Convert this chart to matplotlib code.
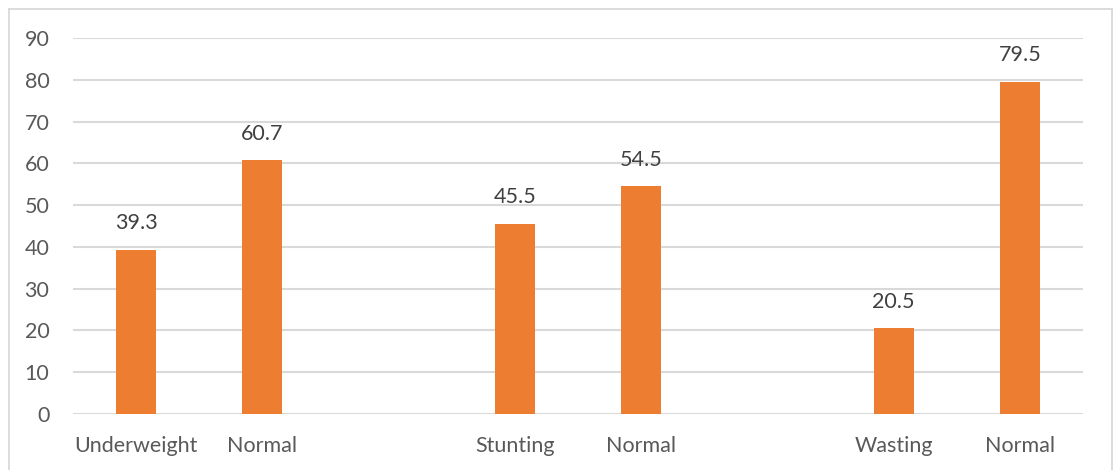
import numpy as np
import matplotlib.pyplot as plt
from matplotlib.lines import Line2D

plt.rcParams['font.family'] = ['Lato', 'DejaVu Sans']

# eight category slots, blanks separate the three groups
categories = ["Underweight", "Normal", "", "Stunting", "Normal", "", "Wasting", "Normal"]
values = [39.3, 60.7, np.nan, 45.5, 54.5, np.nan, 20.5, 79.5]
y_ticks = [0, 10, 20, 30, 40, 50, 60, 70, 80, 90]

bar_color = "#ED7D31"
grid_color = "#D9D9D9"

fig = plt.figure(figsize=(11.13, 4.70), dpi=100)
ax = fig.add_axes([73 / 1113, 56 / 470, 1010 / 1113, 376 / 470])

x = np.arange(len(categories))
heights = [0 if np.isnan(v) else v for v in values]
bars = ax.bar(x, heights, width=0.317, color=bar_color, zorder=3)

for xi, v in zip(x, values):
    if np.isnan(v):
        continue
    ax.annotate(f"{v:.1f}", (xi, v), xytext=(0, 12), textcoords="offset points",
                ha="center", va="bottom", fontsize=15.5, color="#404040")

ax.set_xlim(-0.5, len(categories) - 0.5)
ax.set_ylim(0, 90)
ax.set_yticks(y_ticks)
ax.set_xticks(x)
ax.set_xticklabels(categories)
ax.tick_params(axis="both", length=0, labelsize=15.5, labelcolor="#595959")
ax.tick_params(axis="x", pad=16)
ax.tick_params(axis="y", pad=17)

ax.grid(axis="y", color=grid_color, linewidth=1.5, zorder=0)
for s in ax.spines.values():
    s.set_visible(False)

# light frame round the chart area
frame = dict(color=grid_color, linewidth=1.3, transform=fig.transFigure)
fig.add_artist(Line2D([9 / 1113, 9 / 1113], [0, 1 - 9 / 470], **frame))
fig.add_artist(Line2D([9 / 1113, 1112 / 1113], [1 - 9 / 470, 1 - 9 / 470], **frame))
fig.add_artist(Line2D([1112 / 1113, 1112 / 1113], [0, 1 - 9 / 470], **frame))

fig.savefig("out.png", dpi=100)
